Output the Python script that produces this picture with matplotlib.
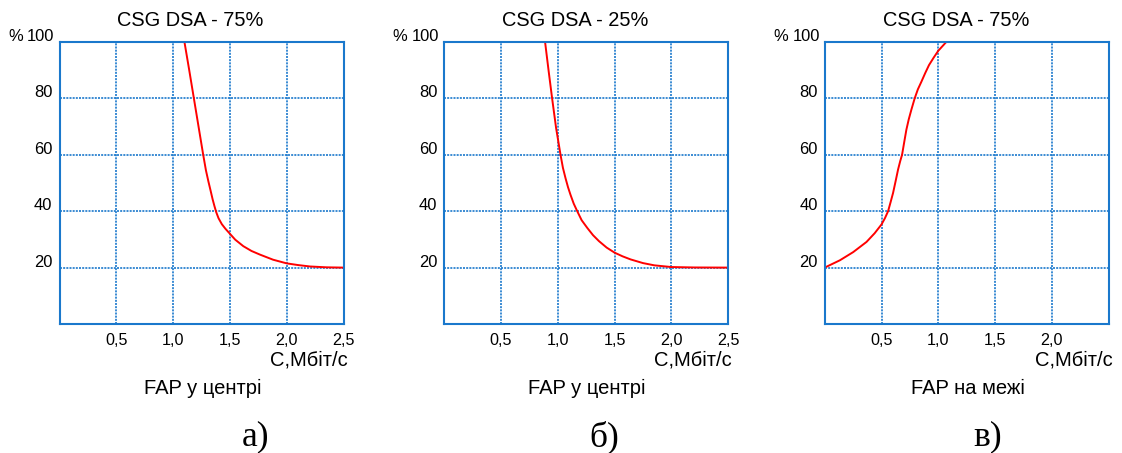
import matplotlib.pyplot as plt

# дані, зчитані з графіків
x_a = [1.10, 1.142, 1.183, 1.224, 1.265, 1.289, 1.311, 1.33, 1.348, 1.364, 1.38, 1.40, 1.429, 1.46, 1.5, 1.547, 1.618, 1.69, 1.765, 1.88, 2.0, 2.1, 2.205, 2.35, 2.5]
y_a = [100, 90, 80, 70, 60, 54.5, 50.5, 47.3, 44.2, 41.8, 39.6, 37.5, 35.4, 33.8, 32.0, 29.9, 27.6, 25.9, 24.6, 22.8, 21.5, 20.9, 20.4, 20.1, 20]

x_b = [0.888, 0.92, 0.95, 0.985, 1.024, 1.045, 1.068, 1.09, 1.112, 1.14, 1.171, 1.21, 1.259, 1.31, 1.362, 1.43, 1.5, 1.57, 1.641, 1.75, 1.85, 2.0, 2.2, 2.5]
y_b = [100, 89.5, 80, 69.5, 60, 55.4, 51.7, 48.5, 45.8, 42.7, 40, 36.8, 34.1, 31.5, 29.4, 27.1, 25.3, 24.0, 22.9, 21.6, 20.8, 20.2, 20.05, 20]

x_c = [0.0, 0.134, 0.251, 0.368, 0.44, 0.5, 0.53, 0.558, 0.58, 0.602, 0.625, 0.646, 0.665, 0.681, 0.70, 0.719, 0.74, 0.763, 0.792, 0.82, 0.851, 0.885, 0.918, 0.96, 1.0, 1.07]
y_c = [20, 22.6, 25.5, 29.1, 32.2, 35.3, 37.5, 40, 43.2, 46.5, 50.8, 54.8, 57.8, 60, 64.5, 68.9, 72.6, 76.0, 80, 83.2, 85.9, 89, 91.8, 94.5, 96.9, 100]

titles = ["CSG DSA - 75%", "CSG DSA - 25%", "CSG DSA - 75%"]
subtitles = ["FAP у центрі", "FAP у центрі", "FAP на межі"]
letters = ["а)", "б)", "в)"]
xtick_vals = [[0.5, 1.0, 1.5, 2.0, 2.5], [0.5, 1.0, 1.5, 2.0, 2.5], [0.5, 1.0, 1.5, 2.0]]
xtick_labels = [["0,5", "1,0", "1,5", "2,0", "2,5"], ["0,5", "1,0", "1,5", "2,0", "2,5"], ["0,5", "1,0", "1,5", "2,0"]]
ytick_vals = [20, 40, 60, 80, 100]
ytick_labels = ["20", "40", "60", "80", "100"]

curves = [(x_a, y_a), (x_b, y_b), (x_c, y_c)]

W, H = 1122, 453
plt.rcParams['font.family'] = ['Liberation Sans', 'DejaVu Sans']
fig = plt.figure(figsize=(W / 100, H / 100), dpi=100)

blue = "#1a78cc"
lefts = [59.5, 444.2, 824.7]
letter_x = [256, 604, 988]

for i in range(3):
    left = lefts[i]
    ax = fig.add_axes([left / W, 1 - 324 / H, 284 / W, 282 / H])
    ax.set_xlim(0, 2.5)
    ax.set_ylim(0, 100)
    for s in ax.spines.values():
        s.set_color(blue)
        s.set_linewidth(1.5)
    ax.set_xticks([0.5, 1.0, 1.5, 2.0])
    ax.set_yticks([20, 40, 60, 80])
    ax.grid(True, color=blue, linestyle=(0, (1.2, 0.7)), linewidth=1.2)
    ax.tick_params(length=0, labelbottom=False, labelleft=False)

    xs, ys = curves[i]
    ax.plot(xs, ys, color="#ff0000", linewidth=1.4)

    # підписи осей
    for v, lab in zip(xtick_vals[i], xtick_labels[i]):
        ax.text(v, -5.8, lab, ha="center", va="center", fontsize=11.6)
    for v, lab in zip(ytick_vals, ytick_labels):
        px = 54.5 if v == 100 else 52.5
        ty = 1 - (324 - v * 2.82 - 5.5) / H
        fig.text((px - 59.5 + left) / W, ty, lab, ha="right", va="center", fontsize=11.9)
        if v == 100:
            fig.text((22.7 - 59.5 + left) / W, ty, "%", ha="right", va="center", fontsize=11.9)

    fig.text((left + 131) / W, 1 - 21 / H, titles[i], ha="center", va="center", fontsize=14.4)
    fig.text((left + 288) / W, 1 - 360 / H, "C,Мбіт/с", ha="right", va="center", fontsize=14.5)
    fig.text((left + 143) / W, 1 - 388 / H, subtitles[i], ha="center", va="center", fontsize=14.5)
    fig.text(letter_x[i] / W, 1 - 437 / H, letters[i], ha="center", va="center",
             fontsize=25.5, family="Liberation Serif")

fig.savefig("out.png", dpi=100)
